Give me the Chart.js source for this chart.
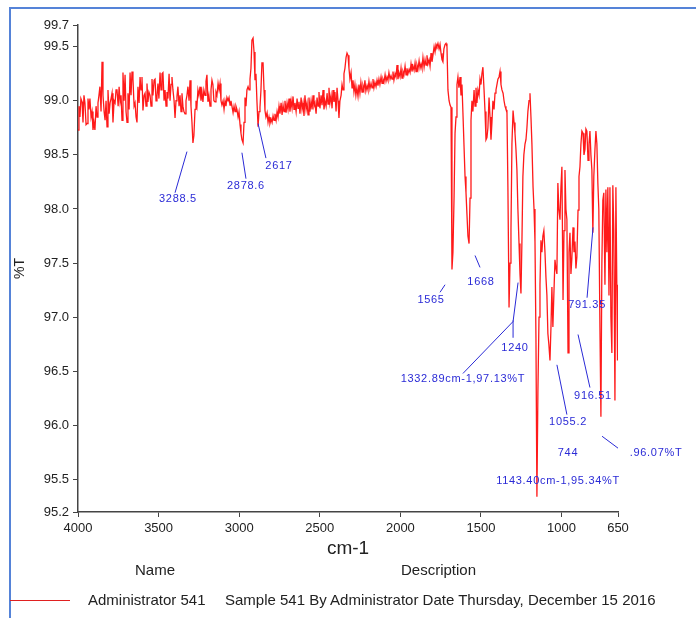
<!DOCTYPE html>
<html>
<head>
<meta charset="utf-8">
<script src="https://cdn.jsdelivr.net/npm/chart.js@4.4.0/dist/chart.umd.min.js"></script>
<style>
  body { margin: 0; background: #fff; }
  #wrap { position: relative; width: 696px; height: 618px; overflow: hidden; background: #fff; }
  #frame { position: absolute; left: 9px; top: 7px; right: -4px; bottom: -4px; border-top: 2px solid #5583d8; border-left: 2px solid #5583d8; }
  #mc { position: absolute; left: 0; top: 0; }
  .ft { position: absolute; font: 15px 'Liberation Sans Narrow', 'Liberation Sans', Arial, sans-serif; color: #222; white-space: nowrap; }
  #key { position: absolute; left: 10px; top: 600px; width: 60px; border-top: 1px solid #e02020; }
</style>
</head>
<body>
<div id="wrap">
  <div id="frame"></div>
  <canvas id="mc" width="696" height="618"></canvas>
  <div class="ft" style="left:135px;top:561px">Name</div>
  <div class="ft" style="left:401px;top:561px">Description</div>
  <div id="key"></div>
  <div class="ft" style="left:88px;top:591px">Administrator 541</div>
  <div class="ft" style="left:225px;top:591px">Sample 541 By Administrator Date Thursday, December 15 2016</div>
</div>
<script>
// wavenumber (cm-1), %T
const spectrum = [
  [4000, 98.73], [3994, 98.95], [3988, 98.85], [3982, 99.02], [3975, 98.99], [3969, 98.80], [3963, 99.05], [3957, 98.98],
  [3950, 98.78], [3944, 98.79], [3938, 99.02], [3932, 98.92], [3926, 99.02], [3919, 98.85], [3913, 98.90], [3907, 98.73],
  [3901, 98.80], [3895, 98.73], [3888, 98.95], [3882, 98.85], [3876, 98.98], [3870, 99.05], [3864, 99.13], [3857, 98.90],
  [3851, 99.36], [3845, 99.05], [3838, 98.90], [3832, 98.82], [3826, 99.00], [3820, 98.76], [3814, 99.10], [3807, 98.88],
  [3801, 98.98], [3795, 99.02], [3789, 99.07], [3783, 98.80], [3776, 99.00], [3770, 98.98], [3764, 99.10], [3758, 99.10],
  [3751, 98.95], [3745, 99.13], [3739, 98.99], [3733, 99.05], [3727, 98.82], [3721, 99.26], [3714, 99.00], [3708, 99.24],
  [3702, 98.90], [3696, 98.80], [3690, 99.07], [3683, 98.92], [3677, 99.26], [3671, 99.05], [3665, 99.27], [3659, 99.20],
  [3652, 98.95], [3646, 98.98], [3640, 98.85], [3634, 98.80], [3628, 99.13], [3621, 98.98], [3615, 99.22], [3609, 99.10],
  [3603, 99.22], [3597, 98.91], [3590, 99.05], [3584, 99.07], [3578, 98.95], [3572, 99.16], [3566, 98.99], [3560, 99.08],
  [3553, 99.05], [3547, 98.95], [3541, 99.20], [3535, 99.05], [3528, 99.19], [3522, 99.20], [3516, 99.00], [3510, 99.04],
  [3504, 99.16], [3498, 99.02], [3491, 99.26], [3485, 99.10], [3479, 99.25], [3473, 99.26], [3466, 99.00], [3460, 99.10],
  [3454, 98.95], [3448, 99.08], [3442, 99.02], [3435, 99.25], [3429, 99.00], [3423, 99.15], [3417, 99.22], [3411, 99.10],
  [3404, 99.00], [3398, 98.84], [3392, 99.00], [3386, 99.04], [3380, 99.13], [3373, 98.95], [3367, 99.05], [3361, 98.90],
  [3355, 99.07], [3349, 98.95], [3343, 98.90], [3336, 98.88], [3330, 99.00], [3324, 99.05], [3318, 99.13], [3311, 99.00],
  [3305, 99.19], [3299, 98.95], [3293, 98.80], [3287, 98.61], [3281, 98.68], [3274, 98.92], [3268, 99.00], [3262, 98.95],
  [3256, 99.10], [3250, 99.05], [3243, 99.13], [3237, 99.00], [3231, 99.08], [3225, 98.99], [3219, 99.10], [3212, 99.05],
  [3206, 99.18], [3200, 99.24], [3194, 98.99], [3188, 99.05], [3181, 98.95], [3175, 99.10], [3169, 99.19], [3163, 99.15],
  [3157, 99.00], [3150, 98.99], [3144, 99.08], [3138, 99.05], [3131, 99.16], [3125, 99.10], [3119, 99.16], [3113, 99.00],
  [3107, 98.96], [3100, 99.00], [3094, 98.92], [3088, 99.00], [3082, 98.95], [3076, 99.03], [3069, 99.00], [3063, 99.03],
  [3057, 98.96], [3051, 99.00], [3045, 98.95], [3038, 98.89], [3032, 98.95], [3026, 98.90], [3020, 98.95], [3014, 98.92],
  [3007, 98.85], [3001, 98.90], [2995, 98.78], [2989, 98.70], [2983, 98.64], [2976, 98.61], [2970, 98.80], [2964, 99.03],
  [2958, 98.95], [2952, 99.10], [2945, 99.13], [2939, 99.10], [2933, 99.20], [2927, 99.30], [2921, 99.56], [2914, 99.58],
  [2908, 99.45], [2902, 99.19], [2896, 99.25], [2890, 99.00], [2883, 98.76], [2877, 98.90], [2871, 98.94], [2865, 99.10],
  [2859, 99.35], [2852, 99.35], [2846, 99.10], [2840, 98.91], [2834, 98.85], [2827, 98.89], [2821, 98.80], [2815, 98.85],
  [2809, 98.79], [2802, 98.83], [2796, 98.80], [2790, 98.86], [2784, 98.82], [2778, 98.88], [2771, 98.82], [2765, 98.90],
  [2759, 98.85], [2753, 98.95], [2747, 98.88], [2740, 98.98], [2734, 98.87], [2728, 98.96], [2722, 98.90], [2716, 99.00],
  [2709, 98.89], [2703, 98.98], [2697, 98.92], [2691, 99.02], [2685, 98.90], [2678, 99.00], [2672, 98.93], [2666, 99.04],
  [2660, 98.92], [2654, 98.98], [2647, 98.90], [2641, 99.02], [2635, 98.93], [2629, 98.99], [2623, 98.88], [2616, 99.03],
  [2610, 98.92], [2604, 98.98], [2598, 98.86], [2592, 99.05], [2585, 98.92], [2579, 98.98], [2573, 98.87], [2567, 99.03],
  [2561, 98.90], [2554, 99.00], [2548, 98.92], [2542, 99.05], [2536, 98.95], [2530, 98.98], [2523, 98.88], [2517, 99.03],
  [2511, 98.95], [2505, 99.08], [2499, 98.93], [2492, 99.05], [2486, 98.96], [2480, 99.10], [2474, 98.92], [2468, 99.00],
  [2461, 98.95], [2455, 99.07], [2449, 98.97], [2443, 99.12], [2437, 98.98], [2430, 99.05], [2424, 98.93], [2418, 99.10],
  [2412, 98.99], [2406, 99.08], [2399, 98.90], [2393, 99.12], [2387, 99.00], [2381, 98.84], [2375, 99.00], [2368, 99.05],
  [2362, 99.15], [2356, 99.10], [2350, 99.25], [2344, 99.30], [2337, 99.40], [2331, 99.44], [2325, 99.42], [2319, 99.30],
  [2313, 99.20], [2306, 99.26], [2300, 99.12], [2294, 99.19], [2288, 99.08], [2282, 99.15], [2276, 99.05], [2270, 99.12],
  [2263, 99.04], [2257, 99.15], [2251, 99.07], [2245, 99.17], [2238, 99.08], [2232, 99.14], [2226, 99.10], [2220, 99.19],
  [2214, 99.09], [2207, 99.14], [2201, 99.10], [2195, 99.18], [2189, 99.11], [2182, 99.16], [2176, 99.12], [2170, 99.20],
  [2164, 99.12], [2158, 99.17], [2151, 99.13], [2145, 99.19], [2139, 99.14], [2133, 99.20], [2127, 99.15], [2120, 99.22],
  [2114, 99.16], [2108, 99.20], [2102, 99.17], [2095, 99.24], [2089, 99.18], [2083, 99.22], [2077, 99.19], [2071, 99.26],
  [2064, 99.20], [2058, 99.23], [2052, 99.20], [2046, 99.27], [2040, 99.19], [2033, 99.25], [2027, 99.22], [2021, 99.33],
  [2015, 99.20], [2009, 99.26], [2002, 99.22], [1996, 99.30], [1990, 99.21], [1984, 99.27], [1978, 99.24], [1971, 99.32],
  [1965, 99.24], [1959, 99.30], [1953, 99.25], [1946, 99.29], [1940, 99.26], [1934, 99.34], [1928, 99.27], [1922, 99.32],
  [1915, 99.28], [1909, 99.35], [1903, 99.27], [1897, 99.33], [1891, 99.29], [1884, 99.37], [1878, 99.30], [1872, 99.34],
  [1866, 99.30], [1860, 99.40], [1853, 99.31], [1847, 99.38], [1841, 99.33], [1835, 99.42], [1829, 99.34], [1822, 99.38],
  [1816, 99.32], [1810, 99.44], [1804, 99.36], [1798, 99.42], [1791, 99.50], [1785, 99.45], [1779, 99.52], [1773, 99.50],
  [1767, 99.53], [1760, 99.48], [1754, 99.52], [1748, 99.44], [1742, 99.38], [1736, 99.36], [1730, 99.48], [1723, 99.52],
  [1717, 99.53], [1711, 99.50], [1705, 99.10], [1698, 99.00], [1692, 98.96], [1686, 98.94], [1680, 97.44], [1674, 97.60],
  [1667, 98.11], [1661, 98.70], [1655, 98.85], [1649, 99.15], [1643, 99.22], [1637, 99.12], [1630, 99.22], [1624, 99.05],
  [1618, 99.15], [1612, 98.89], [1605, 98.57], [1599, 98.30], [1593, 98.15], [1587, 97.95], [1581, 97.75], [1574, 97.68],
  [1568, 98.10], [1562, 98.82], [1556, 99.00], [1550, 98.90], [1543, 99.10], [1537, 98.95], [1531, 99.12], [1525, 98.98],
  [1519, 99.10], [1512, 99.05], [1506, 99.20], [1500, 99.15], [1494, 99.25], [1488, 99.31], [1481, 99.10], [1475, 98.90],
  [1469, 98.64], [1463, 98.66], [1457, 98.75], [1450, 99.03], [1444, 98.85], [1438, 98.64], [1432, 98.80], [1426, 99.00],
  [1419, 98.92], [1413, 99.07], [1407, 99.10], [1401, 99.15], [1395, 99.20], [1388, 99.22], [1382, 99.27], [1376, 99.15],
  [1370, 99.10], [1363, 99.07], [1357, 99.00], [1351, 98.95], [1345, 98.92], [1339, 98.91], [1333, 98.20], [1326, 97.09],
  [1320, 97.50], [1314, 97.81], [1308, 98.60], [1301, 98.91], [1295, 98.80], [1289, 98.70], [1283, 98.55], [1277, 98.36],
  [1271, 98.00], [1264, 97.68], [1258, 97.40], [1252, 97.22], [1246, 97.70], [1240, 98.30], [1234, 98.50], [1227, 98.60],
  [1221, 98.64], [1215, 98.75], [1209, 98.90], [1202, 99.00], [1196, 99.07], [1190, 98.85], [1184, 98.60], [1177, 98.20],
  [1171, 98.00], [1165, 97.70], [1159, 96.80], [1153, 95.34], [1147, 96.30], [1140, 97.00], [1134, 97.30], [1128, 97.71],
  [1122, 97.60], [1116, 97.75], [1110, 97.80], [1103, 97.60], [1097, 97.37], [1091, 97.20], [1085, 96.85], [1079, 96.75],
  [1072, 96.60], [1066, 96.90], [1060, 97.28], [1054, 96.91], [1048, 97.20], [1041, 97.53], [1035, 97.45], [1029, 97.40],
  [1023, 98.24], [1017, 98.00], [1010, 97.90], [1004, 98.20], [998, 98.39], [991, 97.16], [985, 97.80], [979, 98.36],
  [973, 98.00], [967, 97.90], [960, 96.67], [954, 97.60], [948, 97.78], [942, 97.40], [936, 97.55], [929, 97.83],
  [923, 97.60], [917, 97.70], [911, 97.45], [905, 97.56], [898, 97.99], [892, 98.30], [886, 98.39], [880, 98.60],
  [874, 98.72], [867, 98.70], [861, 98.50], [855, 98.55], [849, 98.74], [843, 98.72], [836, 98.45], [830, 98.60],
  [824, 98.72], [818, 98.50], [812, 98.36], [806, 97.78], [800, 98.30], [793, 98.55], [787, 98.72], [781, 98.60],
  [775, 98.24], [769, 98.00], [762, 96.90], [756, 96.08], [750, 97.50], [744, 98.08], [738, 98.15], [731, 97.30],
  [725, 98.18], [719, 97.60], [713, 98.20], [706, 97.20], [700, 98.20], [694, 97.00], [688, 96.67], [682, 98.22],
  [676, 97.80], [669, 96.23], [663, 98.20], [657, 97.25], [653, 96.60], [650, 97.30]
];

const xTicks = [4000, 3500, 3000, 2500, 2000, 1500, 1000, 650];
const yTicks = [95.2, 95.5, 96.0, 96.5, 97.0, 97.5, 98.0, 98.5, 99.0, 99.5, 99.7];

// peak labels and where they sit, in (cm-1, %T)
const peakLabels = ['3288.5', '2878.6', '2617', '1565', '1668', '1240', '1332.89cm-1,97.13%T',
  '791.35', '916.51', '1055.2', '744', '.96.07%T', '1143.40cm-1,95.34%T'];
const labelAt = [[3380, 98.09], [2958, 98.21], [2753, 98.40], [1810, 97.16], [1500, 97.33], [1289, 96.72],
  [1612, 96.43], [842, 97.11], [805, 96.27], [960, 96.03], [960, 95.75], [414, 95.75], [1022, 95.49]];
const leaders = [
  [[3324, 98.53], [3398, 98.15]], [[2983, 98.52], [2958, 98.28]], [[2883, 98.79], [2834, 98.47]],
  [[1723, 97.30], [1754, 97.23]], [[1537, 97.57], [1506, 97.46]], [[1301, 96.97], [1301, 96.81]],
  [[1270, 97.32], [1301, 96.96]], [[1301, 96.96], [1612, 96.48]], [[805, 97.83], [842, 97.18]],
  [[898, 96.84], [824, 96.35]], [[1029, 96.56], [967, 96.10]], [[749, 95.90], [650, 95.79]]
];

const narrow = "'Liberation Sans Narrow', 'Liberation Sans', Arial, sans-serif";

const peakPlugin = {
    id: 'peaks',
    afterDatasetsDraw(chart) {
        const g = chart.ctx, sx = chart.scales.x, sy = chart.scales.y;
        g.save();
        g.strokeStyle = '#2a2ad6';
        g.lineWidth = 1;
        leaders.forEach(l => {
            g.beginPath();
            g.moveTo(sx.getPixelForValue(l[0][0]), sy.getPixelForValue(l[0][1]));
            g.lineTo(sx.getPixelForValue(l[1][0]), sy.getPixelForValue(l[1][1]));
            g.stroke();
        });
        g.fillStyle = '#2a2ad6';
        g.font = "11px 'Liberation Sans', Arial, sans-serif";
        g.letterSpacing = '0.7px';
        g.textAlign = 'center';
        g.textBaseline = 'middle';
        peakLabels.forEach((t, i) => {
            g.fillText(t, sx.getPixelForValue(labelAt[i][0]), sy.getPixelForValue(labelAt[i][1]));
        });
        g.restore();
    }
};

const ctx = document.getElementById('mc');

const data = {
    datasets: [{
        label: 'Administrator 541',
        data: spectrum.map(p => ({ x: p[0], y: p[1] })),
        borderColor: '#ff1a1a',
        borderWidth: 1.3,
        pointRadius: 0,
        tension: 0,
        fill: false
    }]
};

const config = {
    type: 'line',
    data: data,
    options: {
        responsive: false,
        animation: false,
        layout: { padding: { left: 12, top: 25, right: 78, bottom: 58 } },
        plugins: { legend: { display: false }, tooltip: { enabled: false } },
        scales: {
            x: {
                type: 'linear',
                reverse: true,
                min: 650,
                max: 4000,
                afterBuildTicks: s => { s.ticks = xTicks.map(v => ({ value: v })); },
                afterFit: s => { s.height = 48; },
                ticks: { autoSkip: false, maxRotation: 0, color: '#222', padding: 4,
                    font: { family: narrow, size: 13 }, callback: v => String(v) },
                grid: { drawOnChartArea: false, tickLength: 5, color: '#444' },
                border: { color: '#444', width: 1.5 },
                title: { display: true, text: 'cm-1', color: '#222', padding: { top: 0, bottom: 0 },
                    font: { family: "'Liberation Sans', Arial, sans-serif", size: 19 } }
            },
            y: {
                min: 95.2,
                max: 99.7,
                afterBuildTicks: s => { s.ticks = yTicks.map(v => ({ value: v })); },
                afterFit: s => { s.width = 66; },
                ticks: { autoSkip: false, color: '#222', padding: 4,
                    font: { family: narrow, size: 13 }, callback: v => v.toFixed(1) },
                grid: { drawOnChartArea: false, tickLength: 5, color: '#444' },
                border: { color: '#444', width: 1.5 },
                title: { display: true, text: '%T', color: '#222', padding: { top: 0, bottom: 0 },
                    font: { family: "'Liberation Sans', Arial, sans-serif", size: 14 } }
            }
        }
    },
    plugins: [peakPlugin]
};

new Chart(ctx, config);
</script>
</body>
</html>
